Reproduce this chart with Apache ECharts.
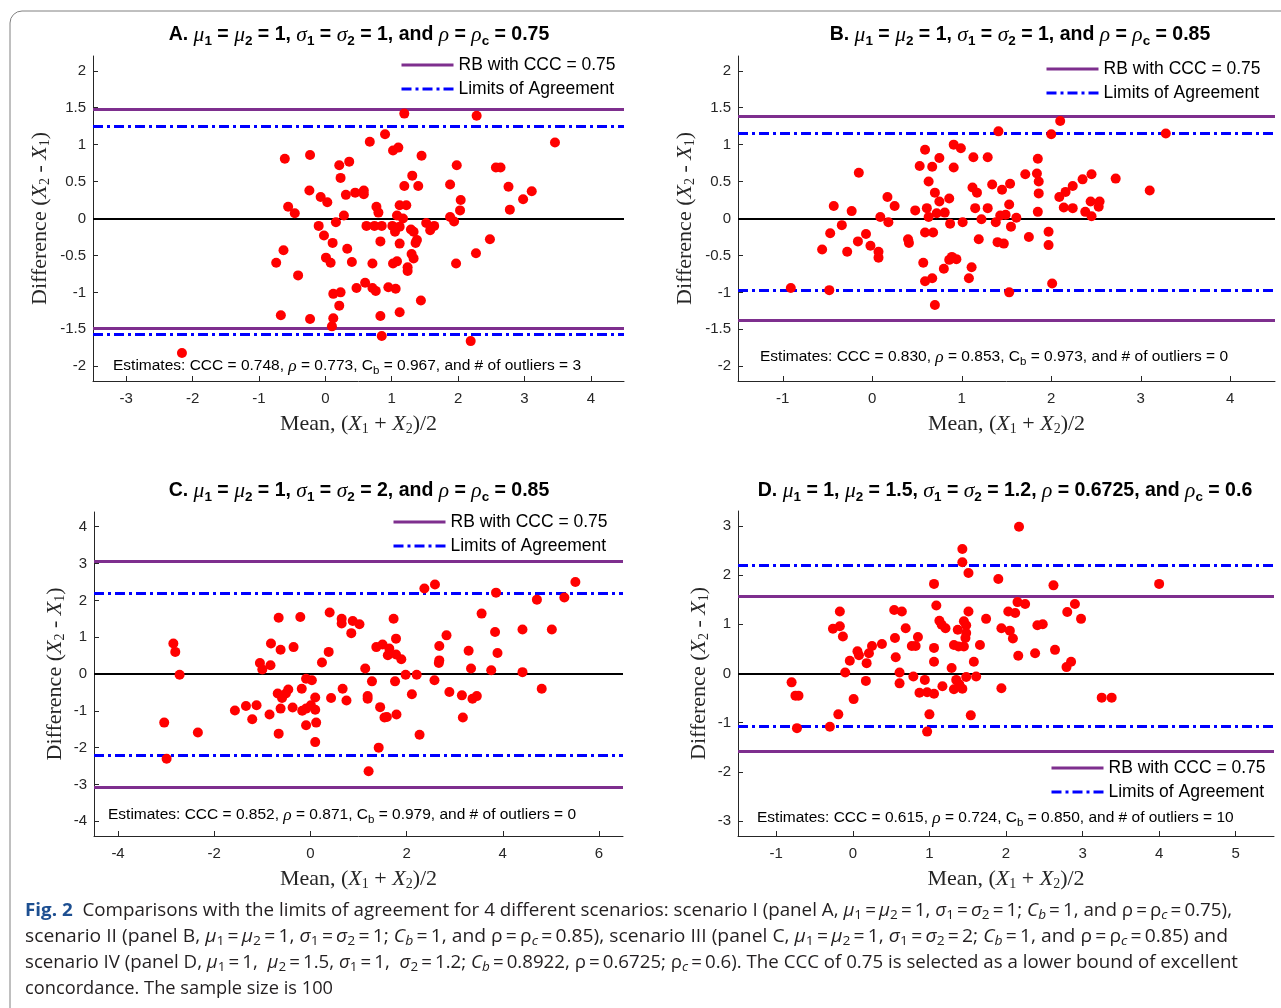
<!DOCTYPE html>
<html>
<head>
<meta charset="utf-8">
<script src="https://cdn.jsdelivr.net/npm/echarts@6/dist/echarts.min.js"></script>
<style>
html, body { margin: 0; padding: 0; background: #fff; }
#fig { width: 1281px; height: 1008px; }
</style>
</head>
<body>
<div id="fig"></div>
<script>
// points: [mean, difference]
var ptsA = [[-0.61,0.81],[-0.23,0.86],[0.21,0.72],[0.36,0.77],[0.23,0.55],[-0.24,0.38],[-0.07,0.29],[0.03,0.22],[0.31,0.32],[-0.56,0.16],[-0.46,0.07],[0.28,0.04],[0.16,-0.05],[-0.10,-0.10],[-0.02,-0.23],[0.11,-0.33],[-0.63,-0.43],[0.33,-0.41],[-0.74,-0.60],[0.01,-0.53],[0.08,-0.60],[0.40,-0.59],[-0.41,-0.77],[0.47,-0.94],[0.12,-1.02],[0.23,-1.00],[0.21,-1.18],[-0.67,-1.31],[-0.23,-1.36],[0.12,-1.35],[0.10,-1.46],[-2.16,-1.82],[0.45,0.35],
  [1.19,1.42],[2.28,1.39],[0.90,1.14],[0.67,1.04],[3.46,1.03],[1.02,0.92],[1.10,0.96],[1.45,0.85],[1.98,0.72],[2.57,0.69],[2.64,0.69],[1.31,0.58],[1.19,0.44],[1.40,0.44],[1.88,0.46],[2.76,0.43],[3.11,0.37],[2.98,0.26],[0.58,0.38],[0.58,0.33],[2.04,0.25],[2.03,0.11],[2.78,0.12],[0.77,0.16],[0.80,0.08],[1.12,0.18],[1.22,0.18],[1.08,0.04],[1.17,0.00],[1.88,0.02],[1.94,-0.04],[0.62,-0.10],[0.74,-0.10],[0.85,-0.10],[1.01,-0.10],[1.05,-0.18],[1.12,-0.11],[1.29,-0.15],[1.52,-0.06],[1.58,-0.16],[1.64,-0.10],[1.33,-0.18],[0.83,-0.31],[1.12,-0.34],[1.38,-0.29],[1.36,-0.33],[2.48,-0.28],[0.71,-0.61],[1.02,-0.61],[1.08,-0.58],[1.30,-0.48],[1.33,-0.54],[1.24,-0.66],[1.24,-0.71],[1.97,-0.61],[2.27,-0.47],[0.60,-0.87],[0.71,-0.94],[0.76,-0.98],[0.95,-0.93],[1.06,-0.95],[1.44,-1.11],[0.83,-1.32],[1.12,-1.27],[0.85,-1.59],[2.19,-1.66]];
var ptsB = [[-0.91,-0.94],[-0.48,-0.97],[-0.15,0.62],[-0.43,0.17],[-0.23,0.10],[-0.34,-0.09],[-0.47,-0.20],[-0.56,-0.42],[-0.28,-0.45],[-0.16,-0.31],[-0.07,-0.21],[-0.02,-0.37],[0.07,-0.45],[0.07,-0.53],[0.17,0.29],[0.25,0.17],[0.09,0.02],[0.18,-0.05],[0.40,-0.28],[0.41,-0.33],[0.48,0.11],[0.53,0.71],[0.59,0.93],[0.67,0.70],[0.75,0.82],[0.63,0.50],[0.70,0.35],[0.75,0.23],[0.86,0.27],[0.61,0.14],[0.63,0.02],[0.72,0.07],[0.81,0.08],[0.59,-0.19],[0.68,-0.19],[0.87,-0.07],[1.01,-0.05],[0.91,1.00],[0.99,0.95],[0.91,0.69],[0.57,-0.60],[0.59,-0.85],[0.67,-0.81],[0.70,-1.17],[0.80,-0.68],[0.86,-0.56],[0.89,-0.52],[0.94,-0.55],[1.08,-0.81],[1.11,-0.66],[1.13,0.83],[1.29,0.83],[1.12,0.42],[1.17,0.35],[1.34,0.46],[1.45,0.39],[1.15,0.14],[1.29,0.14],[1.22,-0.01],[1.38,-0.05],[1.43,0.04],[1.19,-0.28],[1.40,-0.32],[1.41,1.18],
  [2.10,1.32],[2.00,1.14],[3.28,1.15],[1.85,0.81],[1.71,0.60],[1.84,0.61],[1.86,0.50],[1.86,0.34],[1.85,0.09],[1.54,0.47],[1.53,0.19],[1.49,0.05],[1.61,0.01],[1.55,-0.11],[1.75,-0.25],[1.97,-0.18],[1.97,-0.36],[2.01,-0.88],[1.47,-0.34],[1.53,-1.00],[2.09,0.29],[2.16,0.36],[2.24,0.44],[2.35,0.53],[2.45,0.60],[2.72,0.54],[3.10,0.38],[2.14,0.15],[2.24,0.14],[2.44,0.23],[2.54,0.23],[2.53,0.16],[2.38,0.09],[2.45,0.03]];
var ptsC = [[-2.85,0.83],[-2.81,0.60],[-2.72,-0.02],[-3.04,-1.32],[-2.99,-2.30],[-2.34,-1.59],[-1.57,-0.99],[-1.34,-0.87],[-1.12,-0.85],[-1.21,-1.23],[-0.85,-1.10],[-1.05,0.30],[-1.00,0.12],[-0.83,0.24],[-0.82,0.83],[-0.66,1.53],[-0.62,0.66],[-0.21,1.55],[-0.35,0.73],[-0.68,-0.53],[-0.59,-0.65],[-0.51,-0.53],[-0.46,-0.42],[-0.62,-0.94],[-0.37,-0.91],[-0.66,-1.62],[-0.18,-0.40],[-0.09,-0.13],[0.03,-0.17],[-0.17,-1.00],[-0.09,-0.94],[0.01,-0.85],[0.10,-0.64],[0.10,-0.97],[-0.09,-1.39],[0.12,-1.32],[0.10,-1.85],[0.24,0.31],[0.38,0.60],[0.40,1.67],[0.65,1.50],[0.65,1.37],[0.85,1.11],[0.88,1.44],[0.43,-0.65],[0.67,-0.40],[0.75,-0.72],
  [1.02,1.35],[1.73,1.50],[1.78,0.96],[1.37,0.73],[1.50,0.80],[1.64,0.69],[1.61,0.51],[1.78,0.53],[1.89,0.40],[1.14,0.15],[1.28,-0.20],[1.76,-0.20],[1.98,-0.02],[2.21,-0.02],[2.11,-0.55],[1.19,-0.60],[1.19,-0.67],[1.45,-0.90],[1.54,-1.18],[1.59,-1.17],[1.79,-1.10],[2.27,-1.65],[1.42,-2.00],[1.21,-2.64],[2.37,2.32],[2.59,2.43],[3.86,2.21],[4.71,2.02],[5.28,2.08],[5.51,2.50],[3.56,1.64],[2.83,1.05],[2.68,0.76],[2.68,0.37],[2.67,0.30],[3.29,0.63],[3.34,0.15],[3.76,0.10],[3.84,1.14],[3.89,0.57],[4.41,1.21],[5.02,1.21],[4.41,0.05],[4.81,-0.40],[2.58,-0.17],[2.89,-0.49],[3.15,-0.58],[3.37,-0.67],[3.46,-0.60],[3.17,-1.18]];
var ptsD = [[-0.80,-0.18],[-0.75,-0.45],[-0.71,-0.45],[-0.73,-1.11],[-0.30,-1.08],[-0.19,-0.83],[0.01,-0.52],[-0.26,0.91],[-0.17,0.96],[-0.17,1.26],[-0.13,0.75],[-0.10,0.02],[-0.04,0.26],[0.06,0.45],[0.08,0.37],[0.18,0.21],[0.17,-0.15],[0.21,0.41],[0.25,0.56],[0.38,0.60],[0.54,1.29],[0.64,1.26],[0.55,0.72],[0.56,0.33],[0.69,0.92],[0.61,0.02],[0.61,-0.20],[0.77,0.56],[0.82,0.56],[0.85,0.74],[0.79,-0.06],[0.87,-0.39],[0.94,-0.13],[0.97,-0.38],[1.06,-0.41],[1.00,-0.83],[0.97,-1.18],[1.06,1.82],[1.09,1.38],[1.13,1.07],[1.16,0.99],[1.21,0.92],[1.06,0.52],[1.06,0.24],[1.17,-0.26],[1.29,0.11],[1.32,-0.32],[1.32,0.58],[1.37,0.89],[1.38,0.55],[1.35,-0.13],[1.39,-0.22],[1.43,-0.31],[1.43,2.53],[1.43,2.26],[1.51,2.04],[1.45,1.06],[1.48,0.98],[1.51,1.26],[1.48,0.82],[1.47,0.72],[1.45,0.55],[1.48,-0.07],[1.61,-0.06],[1.58,0.24],[1.66,0.58],[1.54,-0.85],[1.74,1.11],[1.90,1.92],[1.94,0.92],[1.94,-0.30],
  [2.17,2.98],[2.62,1.79],[4.00,1.82],[2.15,1.45],[2.25,1.41],[2.90,1.41],[2.03,1.26],[2.12,1.23],[2.80,1.25],[2.98,1.11],[2.05,0.87],[2.09,0.71],[2.41,0.98],[2.48,1.00],[2.16,0.36],[2.38,0.41],[2.64,0.48],[2.85,0.24],[2.79,0.13],[3.25,-0.49],[3.38,-0.49]];

// reference bands (RB) and limits of agreement (LoA)
var rbA = [1.48, -1.48], loaA = [1.25, -1.57];
var rbB = [1.38, -1.38], loaB = [1.15, -0.97];
var rbC = [3.06, -3.07], loaC = [2.20, -2.21];
var rbD = [1.57, -1.57], loaD = [2.20, -1.08];

// axis limits and ticks
var xLimA = [-3.5, 4.5], yLimA = [-2.2, 2.2];
var xLimB = [-1.5, 4.5], yLimB = [-2.2, 2.2];
var xLimC = [-4.5, 6.5], yLimC = [-4.4, 4.4];
var xLimD = [-1.5, 5.5], yLimD = [-3.3, 3.3];
var xTicksA = [-3, -2, -1, 0, 1, 2, 3, 4];
var xTicksB = [-1, 0, 1, 2, 3, 4];
var xTicksC = [-4, -2, 0, 2, 4, 6];
var xTicksD = [-1, 0, 1, 2, 3, 4, 5];
var yTicksAB = [-2, -1.5, -1, -0.5, 0, 0.5, 1, 1.5, 2];
var yTicksC = [-4, -3, -2, -1, 0, 1, 2, 3, 4];
var yTicksD = [-3, -2, -1, 0, 1, 2, 3];

var RB = 'RB with CCC = 0.75', LOA = 'Limits of Agreement';

var titles = [
  '{b|A. }{g|μ}{s|1}{b| = }{g|μ}{s|2}{b| = 1, }{g|σ}{s|1}{b| = }{g|σ}{s|2}{b| = 1, and }{g|ρ}{b| = }{g|ρ}{s|c}{b| = 0.75}',
  '{b|B. }{g|μ}{s|1}{b| = }{g|μ}{s|2}{b| = 1, }{g|σ}{s|1}{b| = }{g|σ}{s|2}{b| = 1, and }{g|ρ}{b| = }{g|ρ}{s|c}{b| = 0.85}',
  '{b|C. }{g|μ}{s|1}{b| = }{g|μ}{s|2}{b| = 1, }{g|σ}{s|1}{b| = }{g|σ}{s|2}{b| = 2, and }{g|ρ}{b| = }{g|ρ}{s|c}{b| = 0.85}',
  '{b|D. }{g|μ}{s|1}{b| = 1, }{g|μ}{s|2}{b| = 1.5, }{g|σ}{s|1}{b| = }{g|σ}{s|2}{b| = 1.2, }{g|ρ}{b| = 0.6725, and }{g|ρ}{s|c}{b| = 0.6}'
];
var estimates = [
  'Estimates: CCC = 0.748, {r|ρ} = 0.773, C{s|b} = 0.967, and # of outliers = 3',
  'Estimates: CCC = 0.830, {r|ρ} = 0.853, C{s|b} = 0.973, and # of outliers = 0',
  'Estimates: CCC = 0.852, {r|ρ} = 0.871, C{s|b} = 0.979, and # of outliers = 0',
  'Estimates: CCC = 0.615, {r|ρ} = 0.724, C{s|b} = 0.850, and # of outliers = 10'
];
var T = '\u2009=\u2009';
var caption = [
  '{f|Fig. 2}  Comparisons with the limits of agreement for 4 different scenarios: scenario I (panel A, {i|μ}{s|1}' + T + '{i|μ}{s|2}' + T + '1, {i|σ}{s|1}' + T + '{i|σ}{s|2}' + T + '1; {i|C}{is|b}' + T + '1, and ρ' + T + 'ρ{is|c}' + T + '0.75),',
  'scenario II (panel B, {i|μ}{s|1}' + T + '{i|μ}{s|2}' + T + '1, {i|σ}{s|1}' + T + '{i|σ}{s|2}' + T + '1; {i|C}{is|b}' + T + '1, and ρ' + T + 'ρ{is|c}' + T + '0.85), scenario III (panel C, {i|μ}{s|1}' + T + '{i|μ}{s|2}' + T + '1, {i|σ}{s|1}' + T + '{i|σ}{s|2}' + T + '2; {i|C}{is|b}' + T + '1, and ρ' + T + 'ρ{is|c}' + T + '0.85) and',
  'scenario IV (panel D, {i|μ}{s|1}' + T + '1,  {i|μ}{s|2}' + T + '1.5, {i|σ}{s|1}' + T + '1,  {i|σ}{s|2}' + T + '1.2; {i|C}{is|b}' + T + '0.8922, ρ' + T + '0.6725; ρ{is|c}' + T + '0.6). The CCC of 0.75 is selected as a lower bound of excellent',
  'concordance. The sample size is 100'
];

var AX = '#262626', PURPLE = '#7e2f8e', BLUE = '#0000ff';
var DASHDOT = [10, 4, 3, 4];

var panels = [
  { pts: ptsA, rb: rbA, loa: loaA, xl: xLimA, yl: yLimA, xt: xTicksA, yt: yTicksAB,
    grid: { left: 93, top: 56, width: 531, height: 325 }, yGap: 41,
    title: [359, 35], est: [113, 366], legend: { left: 400, top: 56 } },
  { pts: ptsB, rb: rbB, loa: loaB, xl: xLimB, yl: yLimB, xt: xTicksB, yt: yTicksAB,
    grid: { left: 738, top: 56, width: 537, height: 325 }, yGap: 41,
    title: [1020, 35], est: [760, 357], legend: { left: 1045, top: 60 } },
  { pts: ptsC, rb: rbC, loa: loaC, xl: xLimC, yl: yLimC, xt: xTicksC, yt: yTicksC,
    grid: { left: 94, top: 512, width: 529, height: 324 }, yGap: 27,
    title: [359, 491], est: [108, 815], legend: { left: 392, top: 513 } },
  { pts: ptsD, rb: rbD, loa: loaD, xl: xLimD, yl: yLimD, xt: xTicksD, yt: yTicksD,
    grid: { left: 738, top: 511, width: 536, height: 325 }, yGap: 27,
    title: [1005, 491], est: [757, 818], legend: { left: 1050, top: 759 } }
];

var sansLbl = { fontFamily: 'Liberation Sans', fontSize: 15, color: AX };
var nameRich = {
  i: { fontFamily: 'Liberation Serif', fontStyle: 'italic', fontSize: 22, color: AX },
  s: { fontFamily: 'Liberation Serif', fontSize: 14, color: AX, padding: [10, 0, 0, 0] }
};

var grids = [], xAxes = [], yAxes = [], series = [], legends = [], graphics = [];

panels.forEach(function (p, k) {
  grids.push(p.grid);
  xAxes.push({
    type: 'value', gridIndex: k, min: p.xl[0], max: p.xl[1],
    axisLine: { show: true, onZero: false, lineStyle: { color: AX, width: 1 } },
    axisTick: { show: true, inside: true, length: 5, customValues: p.xt, lineStyle: { color: AX } },
    axisLabel: Object.assign({ customValues: p.xt, margin: 10 }, sansLbl),
    splitLine: { show: false },
    name: 'Mean, ({i|X}{s|1} + {i|X}{s|2})/2', nameLocation: 'middle', nameGap: 31,
    nameTextStyle: { fontFamily: 'Liberation Serif', fontSize: 22, color: AX, rich: nameRich }
  });
  yAxes.push({
    type: 'value', gridIndex: k, min: p.yl[0], max: p.yl[1],
    axisLine: { show: true, onZero: false, lineStyle: { color: AX, width: 1 } },
    axisTick: { show: true, inside: true, length: 5, customValues: p.yt, lineStyle: { color: AX } },
    axisLabel: Object.assign({ customValues: p.yt, margin: 7 }, sansLbl),
    splitLine: { show: false },
    name: 'Difference ({i|X}{s|2} - {i|X}{s|1})', nameLocation: 'middle', nameGap: p.yGap,
    nameTextStyle: { fontFamily: 'Liberation Serif', fontSize: 22, color: AX, rich: nameRich }
  });
  function hline(name, vals, color, width, type, z) {
    return {
      type: 'line', name: name, xAxisIndex: k, yAxisIndex: k, data: [],
      symbol: 'none', showSymbol: false, z: z,
      lineStyle: { color: color, width: width, type: type },
      itemStyle: { color: color },
      markLine: {
        silent: true, symbol: ['none', 'none'], animation: false,
        label: { show: false },
        lineStyle: { color: color, width: width, type: type },
        emphasis: { disabled: true },
        data: vals.map(function (v) { return { yAxis: v }; })
      }
    };
  }
  series.push(hline(RB, p.rb, PURPLE, 3, 'solid', 2));
  series.push(hline(LOA, p.loa, BLUE, 3, DASHDOT, 2));
  series.push(hline('zero' + k, [0], '#000', 2, 'solid', 2));
  series.push({
    type: 'scatter', name: 'data' + k, xAxisIndex: k, yAxisIndex: k, z: 5,
    symbol: 'circle', symbolSize: 10, itemStyle: { color: '#ff0000', opacity: 1 },
    data: p.pts
  });
  legends.push({
    data: [RB, LOA], orient: 'vertical', left: p.legend.left, top: p.legend.top,
    itemWidth: 52, itemHeight: 14, itemGap: 6, padding: 0, selectedMode: false,
    lineStyle: { width: 3 },
    itemStyle: { opacity: 0, borderWidth: 0 },
    textStyle: { fontFamily: 'Liberation Sans', fontSize: 17.5, color: '#000', padding: [0, 0, 0, 0] }
  });
  graphics.push({
    type: 'text', x: p.title[0], y: p.title[1], silent: true,
    style: {
      text: titles[k], align: 'center', verticalAlign: 'middle',
      fontFamily: 'Liberation Sans', fontWeight: 'bold', fontSize: 19.5, fill: '#000',
      rich: {
        b: { fontFamily: 'Liberation Sans', fontWeight: 'bold', fontSize: 19.5, fill: '#000' },
        g: { fontFamily: 'Liberation Serif', fontStyle: 'italic', fontWeight: 'normal', fontSize: 21.5, fill: '#000' },
        s: { fontFamily: 'Liberation Sans', fontWeight: 'bold', fontSize: 13.5, fill: '#000', padding: [12, 0, 0, 0] }
      }
    }
  });
  graphics.push({
    type: 'text', x: p.est[0], y: p.est[1], silent: true,
    style: {
      text: estimates[k], align: 'left', verticalAlign: 'middle',
      fontFamily: 'Liberation Sans', fontSize: 15.5, fill: '#000',
      rich: {
        r: { fontFamily: 'Liberation Serif', fontStyle: 'italic', fontSize: 17.5, fill: '#000' },
        s: { fontFamily: 'Liberation Sans', fontSize: 11.5, fill: '#000', padding: [10, 0, 0, 0] }
      }
    }
  });
});

// caption, squeezed to the width the original line occupies
var capBase = { fontFamily: '"Open Sans"', fontSize: 18, fontStyle: 'normal', fontWeight: 'normal' };
var capRich = {
  f: { fontFamily: '"Open Sans"', fontWeight: 'bold', fontSize: 18, fill: '#1d4f91' },
  i: { fontFamily: '"Open Sans"', fontStyle: 'italic', fontSize: 18, fill: '#231f20' },
  s: { fontFamily: '"Open Sans"', fontSize: 13, fill: '#231f20', padding: [8, 0, 0, 0] },
  is: { fontFamily: '"Open Sans"', fontStyle: 'italic', fontSize: 13, fill: '#231f20', padding: [8, 0, 0, 0] }
};
var capWidths = [1207, 1203, 1213, 308];
var capY = [911, 937, 963, 989];
var mctx = document.createElement('canvas').getContext('2d');
function richWidth(str, base, rich) {
  var re = /\{(\w+)\|([^}]*)\}|([^{]+)/g, m, w = 0;
  while ((m = re.exec(str))) {
    var st = m[1] ? rich[m[1]] : {};
    var txt = m[1] ? m[2] : m[3];
    mctx.font = (st.fontStyle || base.fontStyle) + ' ' + (st.fontWeight || base.fontWeight) + ' ' +
      (st.fontSize || base.fontSize) + 'px ' + (st.fontFamily || base.fontFamily);
    w += mctx.measureText(txt).width;
  }
  return w;
}
caption.forEach(function (line, k) {
  var w = richWidth(line, capBase, capRich);
  graphics.push({
    type: 'text', x: 25, y: capY[k], scaleX: capWidths[k] / w, silent: true,
    style: {
      text: line, x: 0, y: 0, align: 'left', verticalAlign: 'middle',
      fontFamily: '"Open Sans"', fontSize: 18, fill: '#231f20', rich: capRich
    }
  });
});

graphics.push({
  type: 'rect', silent: true, z: -1,
  shape: { x: 10, y: 11, width: 1320, height: 1060, r: 12 },
  style: { fill: 'none', stroke: '#808080', lineWidth: 1 }
});

var myChart = echarts.init(document.getElementById('fig'), null, { renderer: 'canvas' });
var option = {
  animation: false,
  backgroundColor: '#fff',
  grid: grids,
  xAxis: xAxes,
  yAxis: yAxes,
  legend: legends,
  series: series,
  graphic: graphics
};
myChart.setOption(option);
</script>
</body>
</html>
